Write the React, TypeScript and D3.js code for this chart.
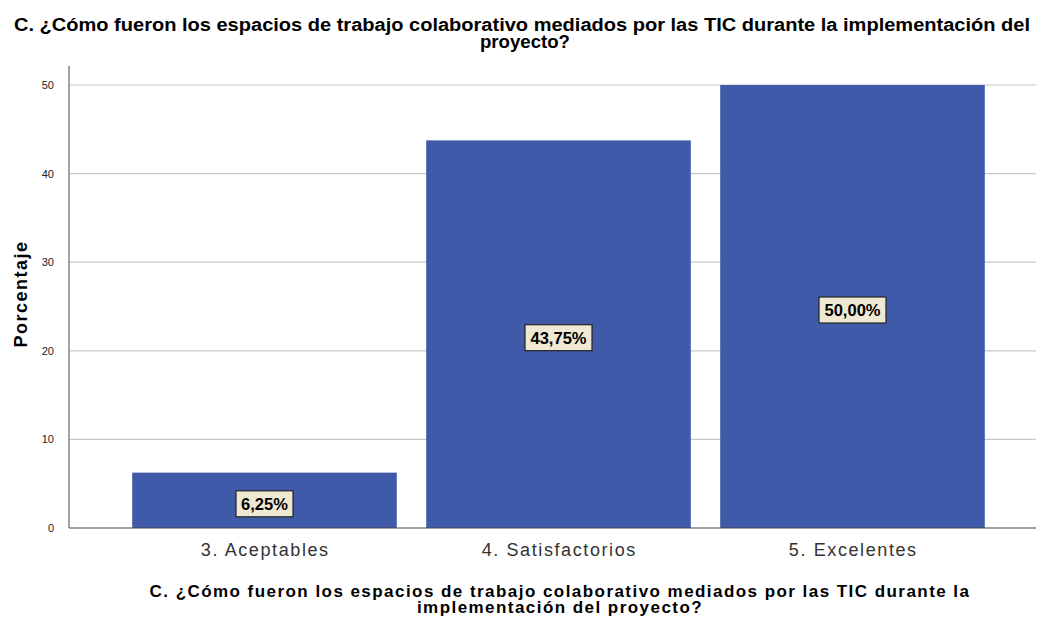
import React from "react";
import * as d3 from "d3";

const categories = ["3. Aceptables", "4. Satisfactorios", "5. Excelentes"];
const values = [6.25, 43.75, 50.0];
const labels = ["6,25%", "43,75%", "50,00%"];
const yTicks = [0, 10, 20, 30, 40, 50];
const titleLines = [
  "C. ¿Cómo fueron los espacios de trabajo colaborativo mediados por las TIC durante la implementación del",
  "proyecto?",
];
const xTitleLines = [
  "C. ¿Cómo fueron los espacios de trabajo colaborativo mediados por las TIC durante la",
  "implementación del proyecto?",
];

export default function App() {
  const W = 1038, H = 620;
  const axisX = 69, plotRight = 1036, plotTop = 66;
  const y = d3.scaleLinear().domain([0, 50]).range([528, 85]);
  const x = d3.scaleBand<string>().domain(categories).range([117.5, 999.5]).paddingInner(0.1).paddingOuter(0.05);
  const font = "'Liberation Sans', Arial, sans-serif";
  const titleLen = [1016, 90];
  const titleX = [522, 525];
  return (
    <svg width={W} height={H} style={{ position: "absolute", left: 0, top: 0, background: "#fff" }} fontFamily={font}>
      <rect x={0} y={0} width={W} height={H} fill="#fff" />
      {titleLines.map((t, i) => (
        <text key={i} x={titleX[i]} y={31 + i * 17} textAnchor="middle" fontSize={17.5} fontWeight="bold" fill="#000"
          textLength={titleLen[i]} lengthAdjust="spacingAndGlyphs">{t}</text>
      ))}
      {yTicks.map((t) => (
        <g key={t}>
          {t > 0 && <line x1={axisX} x2={plotRight} y1={y(t)} y2={y(t)} stroke="#c8c8c8" strokeWidth={1.2} />}
          <text x={54} y={y(t) + 4} textAnchor="end" fontSize={11} fill="#222">{t}</text>
        </g>
      ))}
      {categories.map((c, i) => (
        <rect key={c} x={x(c)} y={y(values[i])} width={x.bandwidth()} height={y(0) - y(values[i])} fill="#3f5aa8" />
      ))}
      <line x1={axisX} x2={axisX} y1={plotTop} y2={528} stroke="#666" strokeWidth={1.2} />
      <line x1={axisX} x2={plotRight} y1={528} y2={528} stroke="#444" strokeWidth={1.2} />
      {categories.map((c, i) => {
        const cx = (x(c) as number) + x.bandwidth() / 2;
        const cy = (y(0) + y(values[i])) / 2 + 3.5;
        const w = labels[i].length * 10 + 7;
        return (
          <g key={"l" + c}>
            <rect x={cx - w / 2} y={cy - 13} width={w} height={26} fill="#efe8d2" stroke="#222" strokeWidth={1.2} />
            <text x={cx} y={cy + 6} textAnchor="middle" fontSize={16.5} fontWeight="bold" fill="#000">{labels[i]}</text>
            <text x={cx + 0.8} y={556} textAnchor="middle" fontSize={18} letterSpacing={1.6} fill="#333">{c}</text>
          </g>
        );
      })}
      <text transform={`translate(27,294) rotate(-90)`} textAnchor="middle" fontSize={18} letterSpacing={1.5} fontWeight="bold" fill="#000">Porcentaje</text>
      {xTitleLines.map((t, i) => (
        <text key={"xt" + i} x={560} y={597 + i * 15.5} textAnchor="middle" fontSize={17} letterSpacing={1.45} fontWeight="bold" fill="#000">{t}</text>
      ))}
    </svg>
  );
}
